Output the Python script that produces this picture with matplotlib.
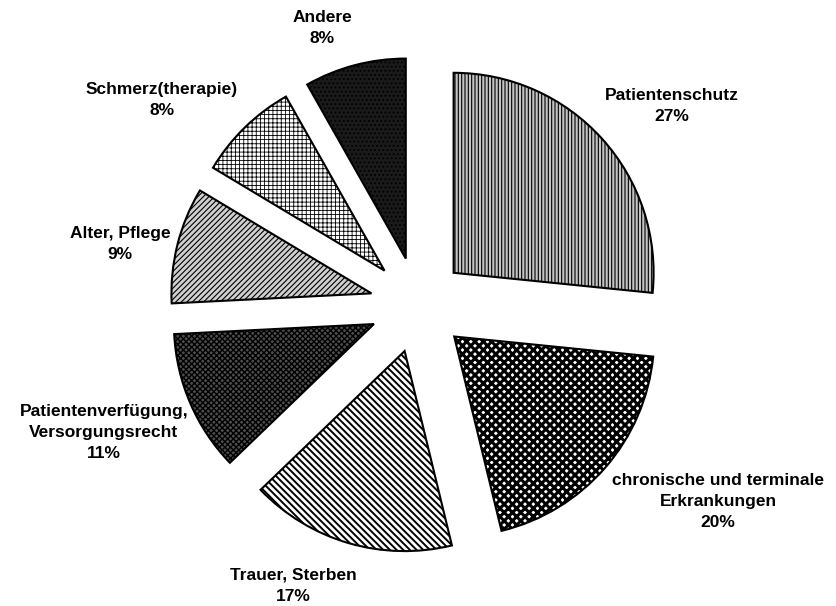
import numpy as np
import matplotlib
matplotlib.use("Agg")
import matplotlib.pyplot as plt

# slice data, clockwise from 12 o'clock (shares in %)
names = ['Patientenschutz', 'chronische und terminale\nErkrankungen', 'Trauer, Sterben',
         'Patientenverfügung,\nVersorgungsrecht', 'Alter, Pflege', 'Schmerz(therapie)', 'Andere']
shares = [26.6, 19.6, 16.6, 11.4, 9.4, 8.2, 8.2]

# look of each slice
faces = ['#c4c4c4', 'white', 'white', '#4e4e4e', '#cfcfcf', 'white', '#1a1a1a']
hatches = ['|||||', 'xxxx', '\\\\\\\\\\', 'xxxxxx', '//////', '++++', '....']
hatch_cols = ['black', 'black', 'black', 'black', '#303030', '#8a8a8a', '#8a8a8a']
hatch_lw = [0.8, 2.2, 1.4, 1.0, 0.8, 0.6, 0.8]
# label centres (data units, pie radius = 1)
label_pos = [(1.27, 0.995), (1.50, -0.985), (-0.625, -1.405), (-1.57, -0.64),
             (-1.49, 0.305), (-1.28, 1.025), (-0.48, 1.385)]

plt.rcParams['font.family'] = ['Liberation Sans', 'DejaVu Sans']
plt.rcParams['hatch.linewidth'] = 0.8

fig = plt.figure(figsize=(8.37, 6.06), dpi=100)
ax = fig.add_axes([0, 0, 1, 1])

wedges, _ = ax.pie(shares, startangle=90, counterclock=False, explode=[0.24] * len(shares),
                   colors=faces, wedgeprops=dict(edgecolor='black', linewidth=1.5))

for w, h, hc, lw in zip(wedges, hatches, hatch_cols, hatch_lw):
    w.set_hatch(h)
    if hasattr(w, 'set_hatchcolor'):
        w.set_hatchcolor(hc)
    if hasattr(w, 'set_hatch_linewidth'):
        w.set_hatch_linewidth(lw)

for name, s, (x, y) in zip(names, shares, label_pos):
    ax.text(x, y, f'{name}\n{s:.0f}%', ha='center', va='center', multialignment='center',
            fontsize=12.5, fontweight='bold', linespacing=1.5)

ax.set_aspect('equal')
ax.set_xlim(-2.09, 2.095)
ax.set_ylim(-1.505, 1.525)
ax.axis('off')

fig.savefig('out.png', dpi=100)
